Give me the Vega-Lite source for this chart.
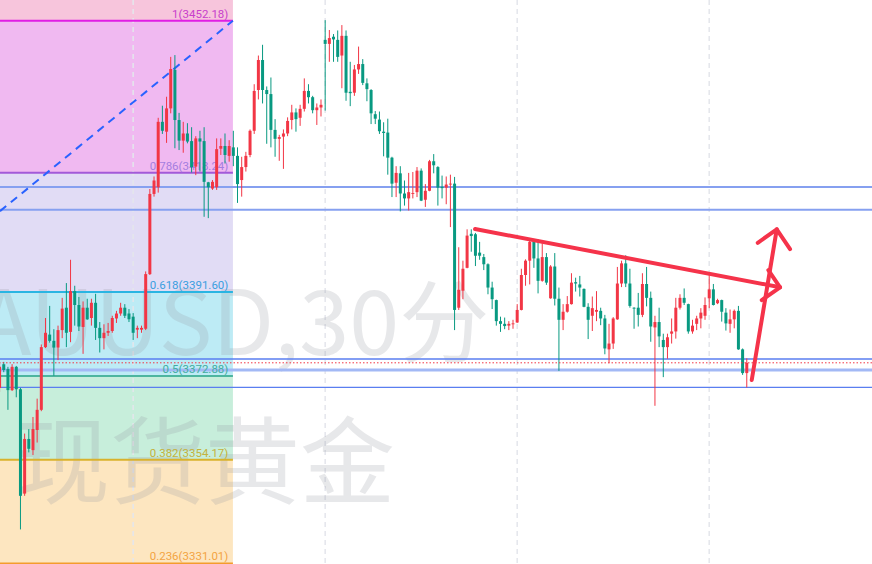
{
  "$schema": "https://vega.github.io/schema/vega-lite/v6.json",
  "width": 872,
  "height": 564,
  "padding": 0,
  "autosize": {"type": "none"},
  "background": "#ffffff",
  "config": {"view": {"stroke": null}, "axis": {"disable": true}, "scale": {"continuousPadding": 0}},
  "datasets": {
    "candles": [
      {"k":0,"o":3370.2,"h":3376.0,"l":3369.3,"c":3374.9},
      {"k":1,"o":3375.5,"h":3376.0,"l":3373.7,"c":3374.2},
      {"k":2,"o":3374.4,"h":3374.9,"l":3365.3,"c":3369.7},
      {"k":3,"o":3369.7,"h":3375.5,"l":3369.5,"c":3374.9},
      {"k":4,"o":3374.9,"h":3375.1,"l":3368.1,"c":3369.9},
      {"k":5,"o":3369.9,"h":3370.2,"l":3338.6,"c":3346.1},
      {"k":6,"o":3346.6,"h":3360.0,"l":3346.1,"c":3358.8},
      {"k":7,"o":3358.8,"h":3361.0,"l":3355.8,"c":3356.6},
      {"k":8,"o":3356.3,"h":3363.7,"l":3355.2,"c":3361.0},
      {"k":9,"o":3360.8,"h":3367.8,"l":3358.0,"c":3365.3},
      {"k":10,"o":3365.3,"h":3379.9,"l":3365.0,"c":3379.3},
      {"k":11,"o":3379.3,"h":3385.8,"l":3379.1,"c":3382.5},
      {"k":12,"o":3382.1,"h":3388.5,"l":3380.3,"c":3380.7},
      {"k":13,"o":3380.7,"h":3383.3,"l":3372.9,"c":3379.2},
      {"k":14,"o":3379.2,"h":3384.1,"l":3376.4,"c":3383.1},
      {"k":15,"o":3383.1,"h":3390.3,"l":3381.3,"c":3387.9},
      {"k":16,"o":3388.1,"h":3393.6,"l":3379.3,"c":3382.5},
      {"k":17,"o":3382.7,"h":3398.8,"l":3380.4,"c":3391.8},
      {"k":18,"o":3391.8,"h":3393.0,"l":3384.1,"c":3388.7},
      {"k":19,"o":3388.7,"h":3390.5,"l":3382.9,"c":3383.9},
      {"k":20,"o":3383.8,"h":3389.5,"l":3377.8,"c":3388.1},
      {"k":21,"o":3388.1,"h":3390.1,"l":3385.4,"c":3385.5},
      {"k":22,"o":3385.8,"h":3390.1,"l":3384.1,"c":3389.2},
      {"k":23,"o":3389.2,"h":3391.2,"l":3380.9,"c":3383.6},
      {"k":24,"o":3383.6,"h":3384.9,"l":3378.1,"c":3381.3},
      {"k":25,"o":3381.3,"h":3384.4,"l":3378.8,"c":3382.5},
      {"k":26,"o":3382.5,"h":3384.7,"l":3381.8,"c":3382.9},
      {"k":27,"o":3382.9,"h":3386.3,"l":3382.5,"c":3385.8},
      {"k":28,"o":3385.7,"h":3387.4,"l":3384.7,"c":3386.8},
      {"k":29,"o":3386.8,"h":3389.2,"l":3386.3,"c":3388.1},
      {"k":30,"o":3388.1,"h":3388.9,"l":3385.8,"c":3386.3},
      {"k":31,"o":3386.8,"h":3387.8,"l":3384.9,"c":3385.5},
      {"k":32,"o":3386.1,"h":3386.9,"l":3380.9,"c":3382.5},
      {"k":33,"o":3383.2,"h":3384.1,"l":3381.3,"c":3383.6},
      {"k":34,"o":3383.2,"h":3384.1,"l":3382.5,"c":3383.6},
      {"k":35,"o":3383.4,"h":3396.2,"l":3383.1,"c":3395.6},
      {"k":36,"o":3395.6,"h":3414.6,"l":3395.4,"c":3413.5},
      {"k":37,"o":3413.5,"h":3417.4,"l":3412.9,"c":3416.5},
      {"k":38,"o":3415.0,"h":3430.5,"l":3413.8,"c":3429.6},
      {"k":39,"o":3429.6,"h":3433.2,"l":3426.9,"c":3427.6},
      {"k":40,"o":3427.4,"h":3435.2,"l":3424.9,"c":3432.6},
      {"k":41,"o":3432.6,"h":3444.1,"l":3431.5,"c":3441.4},
      {"k":42,"o":3441.2,"h":3444.5,"l":3423.7,"c":3430.0},
      {"k":43,"o":3430.0,"h":3431.6,"l":3423.3,"c":3425.4},
      {"k":44,"o":3425.4,"h":3429.6,"l":3422.7,"c":3427.0},
      {"k":45,"o":3427.0,"h":3429.3,"l":3424.8,"c":3425.2},
      {"k":46,"o":3425.3,"h":3428.4,"l":3418.3,"c":3419.5},
      {"k":47,"o":3419.6,"h":3426.4,"l":3417.7,"c":3425.9},
      {"k":48,"o":3425.9,"h":3427.6,"l":3418.5,"c":3425.2},
      {"k":49,"o":3425.3,"h":3428.4,"l":3408.4,"c":3416.2},
      {"k":50,"o":3416.1,"h":3416.2,"l":3408.1,"c":3415.0},
      {"k":51,"o":3414.7,"h":3416.6,"l":3414.4,"c":3416.2},
      {"k":52,"o":3415.0,"h":3425.9,"l":3414.4,"c":3423.5},
      {"k":53,"o":3423.6,"h":3425.9,"l":3422.2,"c":3424.2},
      {"k":54,"o":3424.2,"h":3427.0,"l":3420.3,"c":3422.2},
      {"k":55,"o":3422.0,"h":3425.5,"l":3420.7,"c":3424.2},
      {"k":56,"o":3423.9,"h":3427.6,"l":3419.7,"c":3422.0},
      {"k":57,"o":3422.0,"h":3423.9,"l":3411.5,"c":3415.7},
      {"k":58,"o":3416.6,"h":3421.8,"l":3412.9,"c":3419.5},
      {"k":59,"o":3419.5,"h":3422.9,"l":3418.5,"c":3422.0},
      {"k":60,"o":3422.2,"h":3427.9,"l":3421.7,"c":3427.6},
      {"k":61,"o":3427.6,"h":3438.0,"l":3426.9,"c":3436.5},
      {"k":62,"o":3436.7,"h":3444.4,"l":3434.6,"c":3443.4},
      {"k":63,"o":3443.4,"h":3446.8,"l":3433.7,"c":3436.7},
      {"k":64,"o":3436.7,"h":3437.5,"l":3424.7,"c":3435.8},
      {"k":65,"o":3435.8,"h":3439.5,"l":3423.9,"c":3427.8},
      {"k":66,"o":3427.8,"h":3430.2,"l":3421.8,"c":3425.8},
      {"k":67,"o":3425.8,"h":3426.7,"l":3420.9,"c":3426.2},
      {"k":68,"o":3426.3,"h":3427.9,"l":3419.1,"c":3427.0},
      {"k":69,"o":3427.0,"h":3430.6,"l":3426.4,"c":3429.8},
      {"k":70,"o":3430.0,"h":3433.4,"l":3427.9,"c":3431.7},
      {"k":71,"o":3431.7,"h":3432.6,"l":3427.4,"c":3430.2},
      {"k":72,"o":3430.5,"h":3433.4,"l":3428.7,"c":3432.5},
      {"k":73,"o":3432.5,"h":3439.3,"l":3431.9,"c":3436.5},
      {"k":74,"o":3436.5,"h":3438.0,"l":3433.7,"c":3435.1},
      {"k":75,"o":3435.1,"h":3435.4,"l":3431.5,"c":3432.2},
      {"k":76,"o":3432.2,"h":3433.7,"l":3428.9,"c":3432.8},
      {"k":77,"o":3432.8,"h":3434.6,"l":3430.8,"c":3433.4},
      {"k":78,"o":3447.9,"h":3452.3,"l":3432.1,"c":3447.0},
      {"k":79,"o":3447.0,"h":3450.1,"l":3443.0,"c":3448.3},
      {"k":80,"o":3448.6,"h":3449.2,"l":3443.0,"c":3448.0},
      {"k":81,"o":3447.9,"h":3450.0,"l":3443.0,"c":3444.1},
      {"k":82,"o":3444.4,"h":3451.2,"l":3437.1,"c":3448.8},
      {"k":83,"o":3448.8,"h":3450.0,"l":3434.3,"c":3436.1},
      {"k":84,"o":3436.3,"h":3443.0,"l":3433.1,"c":3436.0},
      {"k":85,"o":3436.1,"h":3442.3,"l":3435.4,"c":3441.3},
      {"k":86,"o":3441.3,"h":3446.4,"l":3440.3,"c":3442.5},
      {"k":87,"o":3442.5,"h":3443.6,"l":3437.8,"c":3438.3},
      {"k":88,"o":3438.2,"h":3439.3,"l":3434.2,"c":3436.9},
      {"k":89,"o":3436.7,"h":3436.9,"l":3429.1,"c":3431.5},
      {"k":90,"o":3431.3,"h":3432.0,"l":3429.1,"c":3430.3},
      {"k":91,"o":3430.1,"h":3431.9,"l":3426.9,"c":3427.5},
      {"k":92,"o":3427.4,"h":3429.5,"l":3421.9,"c":3427.1},
      {"k":93,"o":3427.2,"h":3430.3,"l":3417.8,"c":3421.6},
      {"k":94,"o":3421.6,"h":3421.8,"l":3412.8,"c":3415.8},
      {"k":95,"o":3416.0,"h":3419.7,"l":3412.8,"c":3418.2},
      {"k":96,"o":3418.1,"h":3419.7,"l":3409.6,"c":3413.6},
      {"k":97,"o":3413.6,"h":3416.5,"l":3410.9,"c":3412.5},
      {"k":98,"o":3412.5,"h":3418.2,"l":3409.8,"c":3413.9},
      {"k":99,"o":3413.5,"h":3418.4,"l":3412.5,"c":3413.7},
      {"k":100,"o":3413.9,"h":3419.5,"l":3412.8,"c":3418.7},
      {"k":101,"o":3418.7,"h":3419.2,"l":3411.9,"c":3412.0},
      {"k":102,"o":3412.2,"h":3415.7,"l":3410.6,"c":3414.2},
      {"k":103,"o":3414.2,"h":3421.1,"l":3414.1,"c":3420.8},
      {"k":104,"o":3420.8,"h":3422.4,"l":3418.1,"c":3419.9},
      {"k":105,"o":3419.5,"h":3419.7,"l":3410.9,"c":3414.9},
      {"k":106,"o":3415.1,"h":3417.6,"l":3412.5,"c":3414.8},
      {"k":107,"o":3414.9,"h":3417.4,"l":3411.2,"c":3415.6},
      {"k":108,"o":3415.6,"h":3417.8,"l":3406.1,"c":3415.8},
      {"k":109,"o":3415.8,"h":3417.3,"l":3383.1,"c":3387.6},
      {"k":110,"o":3388.1,"h":3401.6,"l":3387.6,"c":3392.1},
      {"k":111,"o":3391.9,"h":3398.6,"l":3390.0,"c":3396.8},
      {"k":112,"o":3397.0,"h":3405.6,"l":3396.9,"c":3404.2},
      {"k":113,"o":3404.6,"h":3405.6,"l":3400.6,"c":3404.1},
      {"k":114,"o":3404.5,"h":3404.8,"l":3397.4,"c":3399.7},
      {"k":115,"o":3400.4,"h":3402.8,"l":3398.8,"c":3399.7},
      {"k":116,"o":3399.4,"h":3400.1,"l":3396.5,"c":3397.8},
      {"k":117,"o":3397.8,"h":3398.0,"l":3391.1,"c":3392.6},
      {"k":118,"o":3392.6,"h":3393.9,"l":3387.8,"c":3390.0},
      {"k":119,"o":3389.8,"h":3389.9,"l":3384.1,"c":3385.1},
      {"k":120,"o":3385.1,"h":3386.1,"l":3382.7,"c":3384.5},
      {"k":121,"o":3384.5,"h":3385.9,"l":3383.3,"c":3384.0},
      {"k":122,"o":3384.1,"h":3385.1,"l":3383.1,"c":3384.5},
      {"k":123,"o":3384.4,"h":3385.4,"l":3383.4,"c":3384.6},
      {"k":124,"o":3384.8,"h":3388.9,"l":3384.7,"c":3387.6},
      {"k":125,"o":3387.6,"h":3396.8,"l":3387.5,"c":3395.4},
      {"k":126,"o":3395.4,"h":3398.9,"l":3393.0,"c":3398.6},
      {"k":127,"o":3398.6,"h":3403.0,"l":3393.3,"c":3402.8},
      {"k":128,"o":3402.8,"h":3403.2,"l":3397.0,"c":3399.1},
      {"k":129,"o":3399.1,"h":3403.4,"l":3391.3,"c":3394.1},
      {"k":130,"o":3394.1,"h":3402.5,"l":3393.9,"c":3399.4},
      {"k":131,"o":3399.4,"h":3400.3,"l":3393.2,"c":3393.7},
      {"k":132,"o":3390.2,"h":3397.6,"l":3390.1,"c":3397.3},
      {"k":133,"o":3397.3,"h":3400.3,"l":3388.6,"c":3390.1},
      {"k":134,"o":3390.1,"h":3392.6,"l":3374.0,"c":3385.4},
      {"k":135,"o":3385.4,"h":3388.9,"l":3383.1,"c":3387.2},
      {"k":136,"o":3387.2,"h":3390.7,"l":3387.0,"c":3388.9},
      {"k":137,"o":3388.9,"h":3395.8,"l":3388.8,"c":3393.7},
      {"k":138,"o":3393.8,"h":3394.8,"l":3391.7,"c":3393.5},
      {"k":139,"o":3393.3,"h":3395.2,"l":3390.6,"c":3392.6},
      {"k":140,"o":3392.3,"h":3392.4,"l":3388.2,"c":3388.3},
      {"k":141,"o":3388.3,"h":3389.1,"l":3381.1,"c":3385.4},
      {"k":142,"o":3386.3,"h":3390.6,"l":3382.9,"c":3388.0},
      {"k":143,"o":3387.2,"h":3391.8,"l":3385.1,"c":3387.6},
      {"k":144,"o":3387.4,"h":3388.1,"l":3384.2,"c":3385.7},
      {"k":145,"o":3385.7,"h":3386.5,"l":3377.7,"c":3379.0},
      {"k":146,"o":3378.8,"h":3384.5,"l":3375.7,"c":3380.1},
      {"k":147,"o":3380.1,"h":3386.0,"l":3378.9,"c":3385.7},
      {"k":148,"o":3385.5,"h":3397.2,"l":3385.4,"c":3393.5},
      {"k":149,"o":3393.5,"h":3398.6,"l":3392.7,"c":3398.0},
      {"k":150,"o":3398.0,"h":3399.8,"l":3392.7,"c":3393.5},
      {"k":151,"o":3393.5,"h":3396.8,"l":3388.1,"c":3388.5},
      {"k":152,"o":3388.1,"h":3388.2,"l":3383.4,"c":3387.9},
      {"k":153,"o":3388.1,"h":3391.4,"l":3383.9,"c":3386.5},
      {"k":154,"o":3386.5,"h":3395.8,"l":3386.0,"c":3393.4},
      {"k":155,"o":3393.4,"h":3397.2,"l":3388.4,"c":3390.3},
      {"k":156,"o":3390.3,"h":3391.7,"l":3380.5,"c":3383.9},
      {"k":157,"o":3383.7,"h":3386.3,"l":3366.2,"c":3384.9},
      {"k":158,"o":3384.9,"h":3388.1,"l":3379.3,"c":3381.7},
      {"k":159,"o":3380.9,"h":3382.3,"l":3372.6,"c":3379.3},
      {"k":160,"o":3379.3,"h":3382.3,"l":3376.7,"c":3381.5},
      {"k":161,"o":3382.3,"h":3385.7,"l":3380.1,"c":3382.8},
      {"k":162,"o":3382.8,"h":3390.3,"l":3381.2,"c":3388.1},
      {"k":163,"o":3388.1,"h":3391.1,"l":3387.7,"c":3390.3},
      {"k":164,"o":3390.3,"h":3392.4,"l":3388.7,"c":3389.2},
      {"k":165,"o":3388.9,"h":3389.0,"l":3382.3,"c":3382.8},
      {"k":166,"o":3382.8,"h":3385.4,"l":3382.3,"c":3384.1},
      {"k":167,"o":3384.5,"h":3386.3,"l":3383.1,"c":3385.7},
      {"k":168,"o":3385.7,"h":3388.0,"l":3383.5,"c":3387.0},
      {"k":169,"o":3386.3,"h":3390.4,"l":3385.4,"c":3388.7},
      {"k":170,"o":3390.2,"h":3395.9,"l":3388.0,"c":3392.2},
      {"k":171,"o":3392.2,"h":3393.4,"l":3388.6,"c":3388.7},
      {"k":172,"o":3389.1,"h":3390.1,"l":3388.9,"c":3389.8},
      {"k":173,"o":3389.8,"h":3389.9,"l":3385.0,"c":3387.2},
      {"k":174,"o":3387.0,"h":3388.0,"l":3383.0,"c":3384.6},
      {"k":175,"o":3384.5,"h":3387.7,"l":3382.5,"c":3385.5},
      {"k":176,"o":3385.5,"h":3387.7,"l":3383.5,"c":3387.4},
      {"k":177,"o":3387.4,"h":3388.5,"l":3378.7,"c":3378.8},
      {"k":178,"o":3378.8,"h":3379.0,"l":3373.1,"c":3373.5},
      {"k":179,"o":3373.5,"h":3376.8,"l":3370.3,"c":3375.8}
    ],
    "fibzones": [
      {"zone":"z0","top":3460.0,"bot":3452.18},
      {"zone":"z1","top":3452.18,"bot":3418.24},
      {"zone":"z2","top":3418.24,"bot":3391.60},
      {"zone":"z3","top":3391.60,"bot":3372.88},
      {"zone":"z4","top":3372.88,"bot":3354.17},
      {"zone":"z5","top":3354.17,"bot":3331.01}
    ],
    "fib": [
      {"lvl":"1","p":3452.18,"label":"1(3452.18)"},
      {"lvl":"0.786","p":3418.24,"label":"0.786(3418.24)"},
      {"lvl":"0.618","p":3391.60,"label":"0.618(3391.60)"},
      {"lvl":"0.5","p":3372.88,"label":"0.5(3372.88)"},
      {"lvl":"0.382","p":3354.17,"label":"0.382(3354.17)"},
      {"lvl":"0.236","p":3331.01,"label":"0.236(3331.01)"}
    ],
    "grid": [{"k":32},{"k":78},{"k":124},{"k":170}],
    "hlines": [
      {"p":3415.05,"kind":"light"},
      {"p":3409.98,"kind":"light"},
      {"p":3376.65,"kind":"thin"},
      {"p":3370.31,"kind":"thin"},
      {"p":3374.19,"kind":"thick"}
    ],
    "lastprice": [{"p":3375.8}],
    "diag": [{"k":0.1,"p":3409.66,"ord":0},{"k":55.9,"p":3452.18,"ord":1}],
    "watermark": [
      {"line":1,"text":"XAUUSD,30分","k":49.7,"p":3377.5},
      {"line":2,"text":"现货黄金","k":49.2,"p":3345.8}
    ],
    "drawings": [
      {"seg":"trend","ord":0,"k":113.9,"p":3405.67},
      {"seg":"trend","ord":1,"k":186.97,"p":3392.66},
      {"seg":"chev","ord":0,"k":184.17,"p":3396.5},
      {"seg":"chev","ord":1,"k":186.97,"p":3392.66},
      {"seg":"chev","ord":2,"k":182.59,"p":3389.8},
      {"seg":"shaft","ord":0,"k":180.19,"p":3371.96},
      {"seg":"shaft","ord":1,"k":186.18,"p":3405.6},
      {"seg":"head","ord":0,"k":181.63,"p":3402.6},
      {"seg":"head","ord":1,"k":186.18,"p":3405.6},
      {"seg":"head","ord":2,"k":189.37,"p":3401.2}
    ]
  },
  "layer": [
    {
      "data": {"name": "fibzones"},
      "mark": {"type": "rect", "clip": true},
      "encoding": {
        "x": {"datum": 0.1, "type": "quantitative", "scale": {"domain": [0.1, 209.0], "nice": false, "zero": false, "padding": 0}, "axis": null},
        "x2": {"datum": 55.9},
        "y": {"field": "top", "type": "quantitative", "scale": {"domain": [3330.88, 3456.8], "nice": false, "zero": false, "padding": 0}, "axis": null},
        "y2": {"field": "bot"},
        "fill": {"field": "zone", "type": "nominal", "legend": null,
          "scale": {"domain": ["z0","z1","z2","z3","z4","z5"], "range": ["#f7c5dc","#f0b9f1","#e1dcf5","#bdebf5","#c7eedb","#fde6c0"]}}
      }
    },
    {
      "data": {"name": "grid"},
      "mark": {"type": "rule", "color": "#e4e6ec", "strokeWidth": 1.5, "strokeDash": [5, 4], "clip": true},
      "encoding": {
        "x": {"field": "k", "type": "quantitative", "scale": {"domain": [0.1, 209.0], "nice": false, "zero": false, "padding": 0}}
      }
    },
    {
      "data": {"name": "watermark"},
      "transform": [{"filter": "datum.line == 1"}],
      "mark": {"type": "text", "font": "Noto Sans CJK SC", "fontSize": 90, "align": "center", "baseline": "alphabetic", "color": "#9598a1", "opacity": 0.22, "clip": true},
      "encoding": {
        "x": {"field": "k", "type": "quantitative", "scale": {"domain": [0.1, 209.0], "nice": false, "zero": false, "padding": 0}},
        "y": {"field": "p", "type": "quantitative", "scale": {"domain": [3330.88, 3456.8], "nice": false, "zero": false}},
        "text": {"field": "text"}
      }
    },
    {
      "data": {"name": "watermark"},
      "transform": [{"filter": "datum.line == 2"}],
      "mark": {"type": "text", "font": "Noto Sans CJK SC", "fontSize": 95, "align": "center", "baseline": "alphabetic", "color": "#9598a1", "opacity": 0.22, "clip": true},
      "encoding": {
        "x": {"field": "k", "type": "quantitative", "scale": {"domain": [0.1, 209.0], "nice": false, "zero": false, "padding": 0}},
        "y": {"field": "p", "type": "quantitative", "scale": {"domain": [3330.88, 3456.8], "nice": false, "zero": false}},
        "text": {"field": "text"}
      }
    },
    {
      "data": {"name": "hlines"},
      "transform": [{"filter": "datum.kind == 'light'"}],
      "mark": {"type": "rule", "color": "#86a0f0", "strokeWidth": 2},
      "encoding": {
        "y": {"field": "p", "type": "quantitative", "scale": {"domain": [3330.88, 3456.8], "nice": false, "zero": false}}
      }
    },
    {
      "data": {"name": "hlines"},
      "transform": [{"filter": "datum.kind == 'thin'"}],
      "mark": {"type": "rule", "color": "#5a7ef0", "strokeWidth": 1.4},
      "encoding": {
        "y": {"field": "p", "type": "quantitative", "scale": {"domain": [3330.88, 3456.8], "nice": false, "zero": false}}
      }
    },
    {
      "data": {"name": "hlines"},
      "transform": [{"filter": "datum.kind == 'thick'"}],
      "mark": {"type": "rule", "color": "#a3b9f5", "strokeWidth": 3},
      "encoding": {
        "y": {"field": "p", "type": "quantitative", "scale": {"domain": [3330.88, 3456.8], "nice": false, "zero": false}}
      }
    },
    {
      "data": {"name": "fib"},
      "mark": {"type": "rule", "strokeWidth": 2, "clip": true},
      "encoding": {
        "x": {"datum": 0.1, "type": "quantitative", "scale": {"domain": [0.1, 209.0], "nice": false, "zero": false, "padding": 0}},
        "x2": {"datum": 55.9},
        "y": {"field": "p", "type": "quantitative", "scale": {"domain": [3330.88, 3456.8], "nice": false, "zero": false}},
        "stroke": {"field": "lvl", "type": "nominal", "legend": null,
          "scale": {"domain": ["1","0.786","0.618","0.5","0.382","0.236"], "range": ["#e01ee4","#a25ad8","#2ab5e2","#4db59f","#d8b22c","#f49c2c"]}}
      }
    },
    {
      "data": {"name": "fib"},
      "mark": {"type": "text", "font": "Roboto", "fontSize": 11.5, "align": "right", "baseline": "alphabetic", "dy": -3},
      "encoding": {
        "x": {"datum": 54.8, "type": "quantitative", "scale": {"domain": [0.1, 209.0], "nice": false, "zero": false, "padding": 0}},
        "y": {"field": "p", "type": "quantitative", "scale": {"domain": [3330.88, 3456.8], "nice": false, "zero": false}},
        "text": {"field": "label"},
        "color": {"field": "lvl", "type": "nominal", "legend": null,
          "scale": {"domain": ["1","0.786","0.618","0.5","0.382","0.236"], "range": ["#c840cc","#a57ee0","#3a9fe0","#42ad9f","#c4b23c","#f3a443"]}}
      }
    },
    {
      "data": {"name": "diag"},
      "mark": {"type": "line", "color": "#2962ff", "strokeWidth": 2, "strokeDash": [8, 6], "clip": true},
      "encoding": {
        "x": {"field": "k", "type": "quantitative", "scale": {"domain": [0.1, 209.0], "nice": false, "zero": false, "padding": 0}},
        "y": {"field": "p", "type": "quantitative", "scale": {"domain": [3330.88, 3456.8], "nice": false, "zero": false}},
        "order": {"field": "ord"}
      }
    },
    {
      "data": {"name": "candles"},
      "mark": {"type": "rule", "strokeWidth": 1},
      "encoding": {
        "x": {"field": "k", "type": "quantitative", "scale": {"domain": [0.1, 209.0], "nice": false, "zero": false, "padding": 0}},
        "y": {"field": "l", "type": "quantitative", "scale": {"domain": [3330.88, 3456.8], "nice": false, "zero": false}},
        "y2": {"field": "h"},
        "color": {"condition": {"test": "datum.c > datum.o", "value": "#f23645"}, "value": "#089981"}
      }
    },
    {
      "data": {"name": "candles"},
      "mark": {"type": "bar", "width": 3},
      "encoding": {
        "x": {"field": "k", "type": "quantitative", "scale": {"domain": [0.1, 209.0], "nice": false, "zero": false, "padding": 0}},
        "y": {"field": "o", "type": "quantitative", "scale": {"domain": [3330.88, 3456.8], "nice": false, "zero": false}},
        "y2": {"field": "c"},
        "color": {"condition": {"test": "datum.c > datum.o", "value": "#f23645"}, "value": "#089981"}
      }
    },
    {
      "data": {"name": "lastprice"},
      "mark": {"type": "rule", "color": "#f23645", "strokeWidth": 1, "strokeDash": [1.5, 2]},
      "encoding": {
        "y": {"field": "p", "type": "quantitative", "scale": {"domain": [3330.88, 3456.8], "nice": false, "zero": false}}
      }
    },
    {
      "data": {"name": "drawings"},
      "mark": {"type": "line", "color": "#f5334a", "strokeWidth": 4, "strokeCap": "round", "strokeJoin": "round", "clip": true},
      "encoding": {
        "x": {"field": "k", "type": "quantitative", "scale": {"domain": [0.1, 209.0], "nice": false, "zero": false, "padding": 0}},
        "y": {"field": "p", "type": "quantitative", "scale": {"domain": [3330.88, 3456.8], "nice": false, "zero": false}},
        "detail": {"field": "seg"},
        "order": {"field": "ord"}
      }
    }
  ]
}
